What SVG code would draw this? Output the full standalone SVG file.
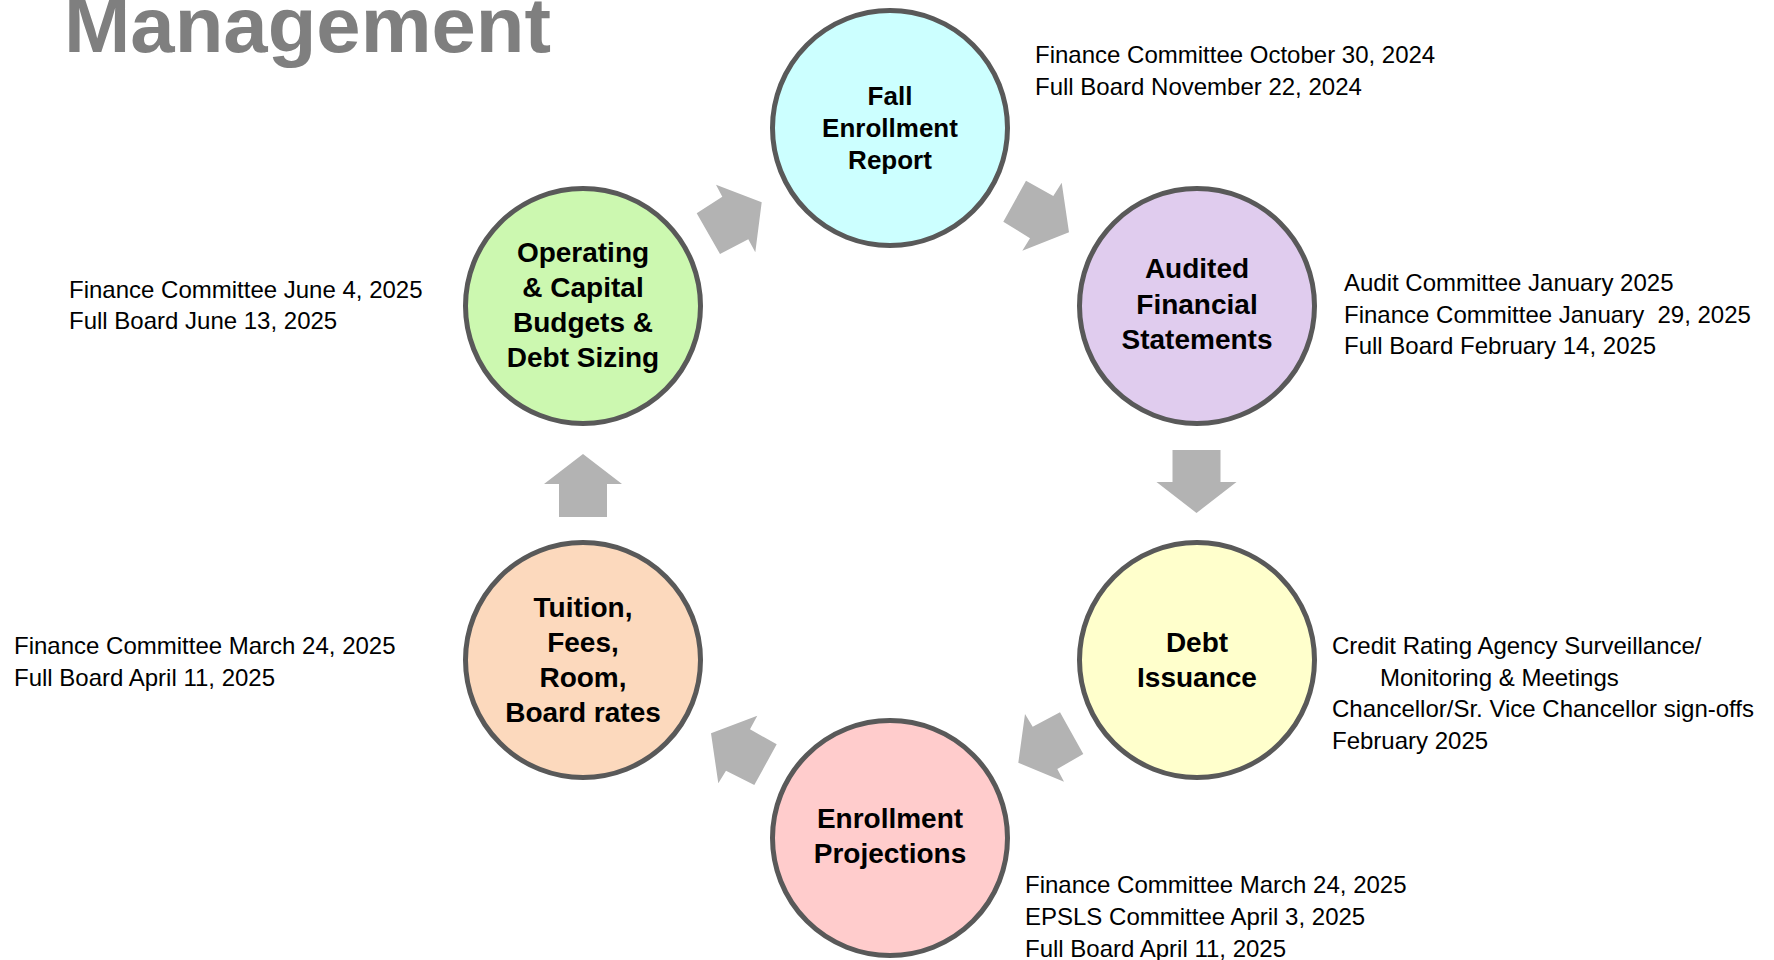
<svg xmlns="http://www.w3.org/2000/svg" width="1774" height="960" viewBox="0 0 1774 960">
  <style>
    .title { font-family: "Liberation Sans", Arial, sans-serif; font-weight: bold; font-size: 78px; fill: #7f7f7f; }
    .node circle { stroke: #595959; stroke-width: 5; }
    .label { font-family: "Liberation Sans", Arial, sans-serif; font-weight: bold; font-size: 28px; fill: #000; text-anchor: middle; }
    .label.small { font-size: 26px; }
    .note { font-family: "Liberation Sans", Arial, sans-serif; font-size: 24px; fill: #000; }
    .arrow { fill: #b3b3b3; stroke: none; }
  </style>

  <rect width="1774" height="960" fill="#ffffff"/>

  <text class="title" x="64" y="52" textLength="487" lengthAdjust="spacingAndGlyphs">Management</text>

  <!-- block arrows between the stages -->
  <g id="connectors">
    <polygon class="arrow" points="761.7,202.3 755.3,252.3 748.3,239.3 720,254 696.7,213.3 722.3,196.7 716,184.7"/>
    <polygon class="arrow" points="1069,232.3 1022.3,250.7 1030,238.3 1003.3,221.7 1026,180.7 1053.3,196 1061.7,182.7"/>
    <polygon class="arrow" points="1172.5,450 1220.5,450 1220.5,482 1236.5,482 1196.5,513 1156.5,482 1172.5,482"/>
    <polygon class="arrow" points="1018.3,762.7 1025,714 1032.7,726.7 1060,712.3 1083.3,754 1057.3,769 1064,781.7"/>
    <polygon class="arrow" points="711,733.3 757.3,715.7 750,729.3 776.7,744.3 754.3,785 726,770.7 718.3,783.3"/>
    <polygon class="arrow" points="583,454 622,484 607,484 607,517 559,517 559,484 544,484"/>
  </g>

  <g id="fall-enrollment-report" class="node">
    <circle cx="890" cy="128" r="117.5" fill="#ccffff"/>
    <text class="label small" x="890" y="105">Fall</text>
    <text class="label small" x="890" y="137">Enrollment</text>
    <text class="label small" x="890" y="169">Report</text>
  </g>

  <g id="audited-financial-statements" class="node">
    <circle cx="1197" cy="306" r="117.5" fill="#e0ccee"/>
    <text class="label" x="1197" y="278">Audited</text>
    <text class="label" x="1197" y="314">Financial</text>
    <text class="label" x="1197" y="349">Statements</text>
  </g>

  <g id="debt-issuance" class="node">
    <circle cx="1197" cy="660" r="117.5" fill="#ffffcc"/>
    <text class="label" x="1197" y="652">Debt</text>
    <text class="label" x="1197" y="687">Issuance</text>
  </g>

  <g id="enrollment-projections" class="node">
    <circle cx="890" cy="838" r="117.5" fill="#ffcccc"/>
    <text class="label" x="890" y="828">Enrollment</text>
    <text class="label" x="890" y="863">Projections</text>
  </g>

  <g id="tuition-fees-room-board" class="node">
    <circle cx="583" cy="660" r="117.5" fill="#fcd9bd"/>
    <text class="label" x="583" y="617">Tuition,</text>
    <text class="label" x="583" y="652">Fees,</text>
    <text class="label" x="583" y="687">Room,</text>
    <text class="label" x="583" y="722">Board rates</text>
  </g>

  <g id="operating-capital-budgets" class="node">
    <circle cx="583" cy="306" r="117.5" fill="#ccf8b0"/>
    <text class="label" x="583" y="262">Operating</text>
    <text class="label" x="583" y="297">&amp; Capital</text>
    <text class="label" x="583" y="332">Budgets &amp;</text>
    <text class="label" x="583" y="367">Debt Sizing</text>
  </g>

  <!-- meeting dates beside each stage -->
  <g id="schedule-notes">
    <text class="note" x="1035" y="63">Finance Committee October 30, 2024</text>
    <text class="note" x="1035" y="95">Full Board November 22, 2024</text>

    <text class="note" x="1344" y="291">Audit Committee January 2025</text>
    <text class="note" x="1344" y="323" xml:space="preserve">Finance Committee January  29, 2025</text>
    <text class="note" x="1344" y="354">Full Board February 14, 2025</text>

    <text class="note" x="1332" y="654">Credit Rating Agency Surveillance/</text>
    <text class="note" x="1380" y="686">Monitoring &amp; Meetings</text>
    <text class="note" x="1332" y="717">Chancellor/Sr. Vice Chancellor sign-offs</text>
    <text class="note" x="1332" y="749">February 2025</text>

    <text class="note" x="1025" y="893">Finance Committee March 24, 2025</text>
    <text class="note" x="1025" y="925">EPSLS Committee April 3, 2025</text>
    <text class="note" x="1025" y="957">Full Board April 11, 2025</text>

    <text class="note" x="14" y="654">Finance Committee March 24, 2025</text>
    <text class="note" x="14" y="686">Full Board April 11, 2025</text>

    <text class="note" x="69" y="298">Finance Committee June 4, 2025</text>
    <text class="note" x="69" y="329">Full Board June 13, 2025</text>
  </g>
</svg>
